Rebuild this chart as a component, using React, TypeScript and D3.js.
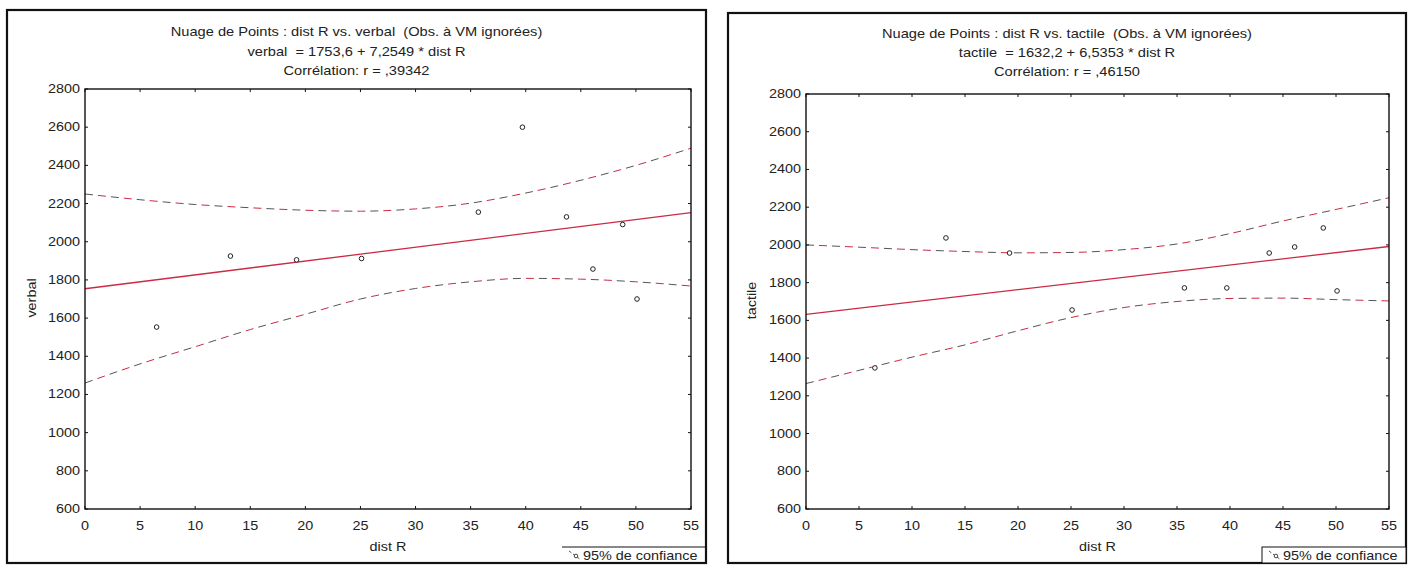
import React from 'react';
import * as d3 from 'd3';

// ---- data ----
const distR = [6.5, 13.2, 19.2, 25.1, 35.7, 39.7, 43.7, 46.1, 48.8, 50.1];
const verbal = [1553, 1925, 1905, 1912, 2155, 2600, 2130, 1857, 2090, 1700];
const tactile = [1348, 2037, 1957, 1655, 1772, 1772, 1957, 1989, 2090, 1756];

const bandX = [0, 5, 10, 15, 20, 25, 30, 35, 40, 45, 50, 55];
const verbalUpper = [2250, 2220, 2195, 2178, 2165, 2160, 2172, 2202, 2255, 2322, 2400, 2490];
const verbalLower = [1260, 1360, 1450, 1540, 1620, 1700, 1755, 1790, 1808, 1804, 1790, 1768];
const tactileUpper = [2000, 1988, 1975, 1965, 1958, 1960, 1975, 2005, 2060, 2127, 2188, 2250];
const tactileLower = [1265, 1335, 1405, 1470, 1545, 1615, 1668, 1700, 1716, 1718, 1710, 1703];

const verbalFit = { a: 1753.6, b: 7.2549 };
const tactileFit = { a: 1632.2, b: 6.5353 };

const xTicks = [0, 5, 10, 15, 20, 25, 30, 35, 40, 45, 50, 55];
const yTicks = [600, 800, 1000, 1200, 1400, 1600, 1800, 2000, 2200, 2400, 2600, 2800];

const verbalTitles = [
  'Nuage de Points : dist R vs. verbal  (Obs. à VM ignorées)',
  'verbal  = 1753,6 + 7,2549 * dist R',
  'Corrélation: r = ,39342',
];
const tactileTitles = [
  'Nuage de Points : dist R vs. tactile  (Obs. à VM ignorées)',
  'tactile  = 1632,2 + 6,5353 * dist R',
  'Corrélation: r = ,46150',
];

const FONT = '"Liberation Sans", Arial, Helvetica, sans-serif';
const RED = '#cc2a44';
const SX = 1.2;

function T(props: { x: number; y: number; anchor?: 'start' | 'middle' | 'end'; rotate?: number; sx?: number; children: React.ReactNode }) {
  const { x, y, anchor = 'start', rotate = 0, sx = SX } = props;
  return (
    <text
      transform={`translate(${x},${y}) rotate(${rotate}) scale(${sx},1)`}
      textAnchor={anchor}
      fontSize={12}
      fontFamily={FONT}
      fill="#222"
      style={{ whiteSpace: 'pre' }}
    >
      {props.children}
    </text>
  );
}

type PanelProps = {
  box: { x: number; y: number; w: number; h: number };
  plot: { l: number; r: number; t: number; b: number };
  ys: number[];
  upper: number[];
  lower: number[];
  fit: { a: number; b: number };
  titles: string[];
  titleY: number[];
  yLabel: string;
  yLabelX: number;
  legendBox: boolean;
};

function Panel(p: PanelProps) {
  const x = d3.scaleLinear().domain([0, 55]).range([p.plot.l, p.plot.r]);
  const y = d3.scaleLinear().domain([600, 2800]).range([p.plot.b, p.plot.t]);
  const cx = p.box.x + p.box.w / 2;
  const band = d3
    .line<number>()
    .x((_, i) => x(bandX[i]))
    .y((d) => y(d))
    .curve(d3.curveMonotoneX);
  const fitLine = d3.line<number>().x((d) => x(d)).y((d) => y(p.fit.a + p.fit.b * d));
  const plotCx = (p.plot.l + p.plot.r) / 2;
  const plotCy = (p.plot.t + p.plot.b) / 2;
  const lgRight = p.box.x + p.box.w;
  const lgLeft = lgRight - 144;
  const lgTop = p.box.y + p.box.h - 16;
  return (
    <g>
      <rect x={p.box.x} y={p.box.y} width={p.box.w} height={p.box.h} fill="white" stroke="#111" strokeWidth={2.2} />
      {p.titles.map((t, i) => (
        <T key={i} x={cx} y={p.titleY[i]} anchor="middle" sx={1.22}>
          {t}
        </T>
      ))}
      {/* bands */}
      {[p.upper, p.lower].map((arr, i) => (
        <g key={i}>
          <path d={band(arr) || ''} fill="none" stroke="#555" strokeWidth={1} strokeDasharray="8 18" />
          <path d={band(arr) || ''} fill="none" stroke={RED} strokeWidth={1} strokeDasharray="8 18" strokeDashoffset={-13} />
        </g>
      ))}
      <path d={fitLine([0, 55]) || ''} fill="none" stroke={RED} strokeWidth={1.3} />
      {/* points */}
      {distR.map((d, i) => (
        <circle key={i} cx={x(d)} cy={y(p.ys[i])} r={2.3} fill="white" stroke="#222" strokeWidth={1} />
      ))}
      {/* frame */}
      <rect x={p.plot.l} y={p.plot.t} width={p.plot.r - p.plot.l} height={p.plot.b - p.plot.t} fill="none" stroke="#111" strokeWidth={1.4} />
      {xTicks.map((t) => (
        <g key={'x' + t}>
          <line x1={x(t)} x2={x(t)} y1={p.plot.b} y2={p.plot.b - 3} stroke="#111" />
          <line x1={x(t)} x2={x(t)} y1={p.plot.t} y2={p.plot.t + 3} stroke="#111" />
          <T x={x(t)} y={p.plot.b + 21} anchor="middle">
            {String(t)}
          </T>
        </g>
      ))}
      {yTicks.map((t) => (
        <g key={'y' + t}>
          <line x1={p.plot.l} x2={p.plot.l + 3} y1={y(t)} y2={y(t)} stroke="#111" />
          <line x1={p.plot.r} x2={p.plot.r - 3} y1={y(t)} y2={y(t)} stroke="#111" />
          <T x={p.plot.l - 5} y={y(t) + 4} anchor="end">
            {String(t)}
          </T>
        </g>
      ))}
      <T x={plotCx} y={p.plot.b + 42} anchor="middle">
        dist R
      </T>
      <T x={p.yLabelX} y={plotCy - 1} anchor="middle" rotate={-90}>
        {p.yLabel}
      </T>
      {/* legend */}
      {p.legendBox ? (
        <rect x={lgLeft} y={lgTop} width={lgRight - lgLeft} height={p.box.y + p.box.h - lgTop} fill="white" stroke="#111" strokeWidth={1} />
      ) : (
        <line x1={lgLeft} x2={lgRight} y1={lgTop} y2={lgTop} stroke="#111" strokeWidth={1} />
      )}
      <line x1={lgLeft + 7} y1={lgTop + 4} x2={lgLeft + 19} y2={lgTop + 13} stroke="#555" strokeWidth={1} strokeDasharray="3 2" />
      <circle cx={lgLeft + 14} cy={lgTop + 9} r={1.8} fill="white" stroke="#333" strokeWidth={0.9} />
      <T x={lgLeft + 21} y={lgTop + 13}>
        95% de confiance
      </T>
    </g>
  );
}

export default function App() {
  return (
    <svg
      width={1413}
      height={565}
      viewBox="0 0 1413 565"
      style={{ position: 'absolute', left: 0, top: 0, background: 'white' }}
    >
      <rect x={0} y={0} width={1413} height={565} fill="white" />
      <Panel
        box={{ x: 7, y: 10, w: 699, h: 553 }}
        plot={{ l: 85, r: 691, t: 89, b: 509 }}
        ys={verbal}
        upper={verbalUpper}
        lower={verbalLower}
        fit={verbalFit}
        titles={verbalTitles}
        titleY={[36, 56, 75]}
        yLabel="verbal"
        yLabelX={36}
        legendBox={false}
      />
      <Panel
        box={{ x: 728, y: 13, w: 678, h: 550 }}
        plot={{ l: 806, r: 1389, t: 94, b: 509 }}
        ys={tactile}
        upper={tactileUpper}
        lower={tactileLower}
        fit={tactileFit}
        titles={tactileTitles}
        titleY={[38, 57, 76]}
        yLabel="tactile"
        yLabelX={756}
        legendBox={true}
      />
    </svg>
  );
}
